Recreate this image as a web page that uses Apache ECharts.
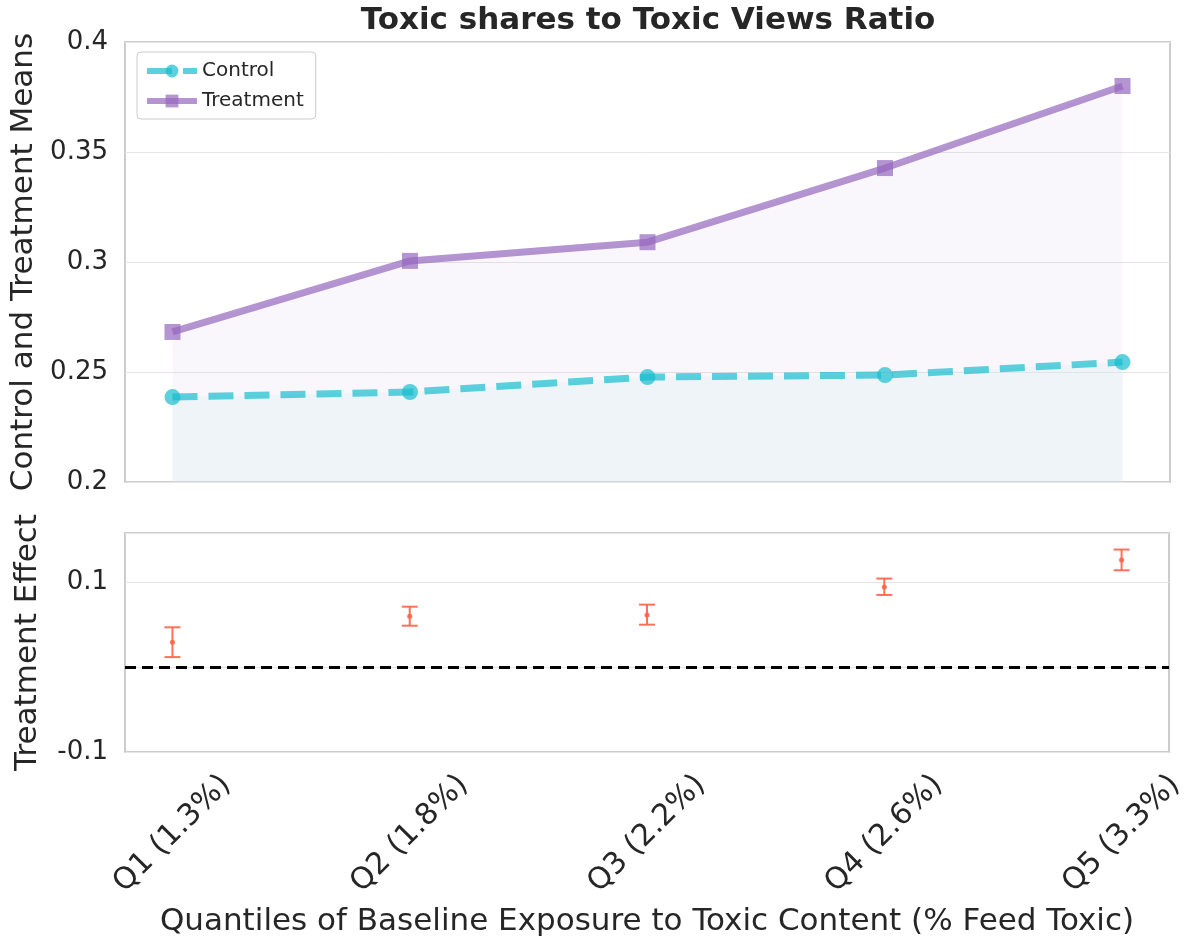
<!DOCTYPE html>
<html>
<head>
<meta charset="utf-8">
<script src="https://cdn.jsdelivr.net/npm/echarts@6/dist/echarts.min.js"></script>
<style>
html,body{margin:0;padding:0;background:#fff;}
#chart{width:1188px;height:943px;}
</style>
</head>
<body>
<div id="chart"></div>
<script>
// ---- data ----
const categories = ['Q1 (1.3%)', 'Q2 (1.8%)', 'Q3 (2.2%)', 'Q4 (2.6%)', 'Q5 (3.3%)'];
const controlMeans = [0.2386, 0.2409, 0.2477, 0.2486, 0.2545];
const treatmentMeans = [0.2682, 0.3005, 0.3090, 0.3427, 0.3800];
const effect = [0.0292, 0.0598, 0.0614, 0.0945, 0.1263];
const effectLow = [0.0118, 0.0488, 0.0500, 0.0850, 0.1141];
const effectHigh = [0.0469, 0.0712, 0.0736, 0.1043, 0.1385];
const topTicks = [0.2, 0.25, 0.3, 0.35, 0.4];
const bottomTicks = [-0.1, 0.1];

const FONT = 'DejaVu Sans';
const TXT = '#262626';
const idx = categories.map((c, i) => i);

const chart = echarts.init(document.getElementById('chart'), null, {renderer: 'canvas'});

const controlColor = 'rgba(23,190,207,0.7)';
const treatColor = 'rgba(148,103,189,0.7)';
const errColor = 'rgba(255,99,71,0.9)';

const option = {
  backgroundColor: '#ffffff',
  animation: false,
  textStyle: {fontFamily: FONT, color: TXT},
  graphic: [
    {
      type: 'text', x: 648, y: 21, silent: true,
      style: {
        text: 'Toxic shares to Toxic Views Ratio',
        textAlign: 'center', textVerticalAlign: 'middle',
        font: 'bold 31px "DejaVu Sans"', fill: TXT
      }
    }
  ],
  legend: {
    orient: 'vertical',
    left: 137, top: 52,
    data: ['Control', 'Treatment'],
    itemWidth: 50, itemHeight: 16, itemGap: 10,
    padding: [9, 12, 8, 7],
    backgroundColor: '#ffffff',
    borderColor: '#cccccc', borderWidth: 1, borderRadius: 4,
    lineStyle: {width: 6},
    textStyle: {fontFamily: FONT, fontSize: 20, color: TXT}
  },
  grid: [
    {left: 125, right: 18, top: 42, height: 440, show: true, borderColor: '#cccccc', borderWidth: 2, backgroundColor: 'transparent'},
    {left: 125, right: 18, top: 533, height: 219, show: true, borderColor: '#cccccc', borderWidth: 2, backgroundColor: 'transparent'}
  ],
  xAxis: [
    {
      gridIndex: 0, type: 'value', min: -0.2, max: 4.2,
      axisLine: {show: false}, axisTick: {show: false}, axisLabel: {show: false}, splitLine: {show: false}
    },
    {
      gridIndex: 1, type: 'value', min: -0.2, max: 4.2,
      axisLine: {show: false}, axisTick: {show: false}, splitLine: {show: false},
      axisLabel: {
        customValues: idx,
        formatter: v => categories[Math.round(v)] || '',
        rotate: 45, align: 'center', verticalAlign: 'middle', margin: 82,
        fontFamily: FONT, fontSize: 30, color: TXT
      },
      name: 'Quantiles of Baseline Exposure to Toxic Content (% Feed Toxic)',
      nameLocation: 'middle', nameGap: 154,
      nameTextStyle: {fontFamily: FONT, fontSize: 31, color: TXT}
    }
  ],
  yAxis: [
    {
      gridIndex: 0, type: 'value', min: 0.2, max: 0.4, interval: 0.05,
      axisLine: {show: false}, axisTick: {show: false},
      axisLabel: {
        fontFamily: FONT, fontSize: 26, color: TXT, margin: 17,
        formatter: v => {
          const t = topTicks.find(x => Math.abs(x - v) < 1e-9);
          return t === undefined ? '' : String(t);
        }
      },
      splitLine: {show: true, lineStyle: {color: '#e6e6e6', width: 1}},
      name: 'Control and Treatment Means', nameLocation: 'middle', nameGap: 82,
      nameTextStyle: {fontFamily: FONT, fontSize: 31, color: TXT}
    },
    {
      gridIndex: 1, type: 'value', min: -0.1, max: 0.158, interval: 0.1,
      axisLine: {show: false}, axisTick: {show: false},
      axisLabel: {
        fontFamily: FONT, fontSize: 26, color: TXT, margin: 17,
        formatter: v => {
          const t = bottomTicks.find(x => Math.abs(x - v) < 1e-9);
          return t === undefined ? '' : String(t);
        }
      },
      splitLine: {show: true, lineStyle: {color: '#e6e6e6', width: 1}},
      name: 'Treatment Effect', nameLocation: 'middle', nameGap: 82,
      nameTextStyle: {fontFamily: FONT, fontSize: 31, color: TXT}
    }
  ],
  series: [
    {
      name: 'Treatment', type: 'line', xAxisIndex: 0, yAxisIndex: 0,
      data: idx.map(i => [i, treatmentMeans[i]]),
      symbol: 'rect', symbolSize: 16,
      itemStyle: {color: treatColor},
      lineStyle: {color: treatColor, width: 7},
      areaStyle: {color: 'rgba(148,103,189,0.07)', origin: 'start'},
      z: 2
    },
    {
      name: 'Control', type: 'line', xAxisIndex: 0, yAxisIndex: 0,
      data: idx.map(i => [i, controlMeans[i]]),
      symbol: 'circle', symbolSize: 16,
      itemStyle: {color: controlColor},
      lineStyle: {color: controlColor, width: 7, type: [25, 11]},
      areaStyle: {color: 'rgba(222,240,242,0.55)', origin: 'start'},
      z: 3
    },
    {
      name: 'zero', type: 'line', xAxisIndex: 1, yAxisIndex: 1,
      data: [], symbol: 'none',
      markLine: {
        silent: true, symbol: 'none',
        label: {show: false},
        lineStyle: {color: '#000000', width: 3, type: [11, 6]},
        data: [{yAxis: 0}]
      }
    },
    {
      name: 'Effect', type: 'custom', xAxisIndex: 1, yAxisIndex: 1,
      data: idx.map(i => [i, effect[i], effectLow[i], effectHigh[i]]),
      renderItem: function (params, api) {
        const x = api.value(0);
        const c = api.coord([x, api.value(1)]);
        const lo = api.coord([x, api.value(2)]);
        const hi = api.coord([x, api.value(3)]);
        const cap = 8;
        const st = {stroke: errColor, lineWidth: 2};
        return {
          type: 'group',
          children: [
            {type: 'line', shape: {x1: lo[0], y1: lo[1], x2: hi[0], y2: hi[1]}, style: st},
            {type: 'line', shape: {x1: lo[0] - cap, y1: lo[1], x2: lo[0] + cap, y2: lo[1]}, style: st},
            {type: 'line', shape: {x1: hi[0] - cap, y1: hi[1], x2: hi[0] + cap, y2: hi[1]}, style: st},
            {type: 'circle', shape: {cx: c[0], cy: c[1], r: 2.5}, style: {fill: errColor}}
          ]
        };
      },
      z: 5
    }
  ]
};
chart.setOption(option);
</script>
</body>
</html>
